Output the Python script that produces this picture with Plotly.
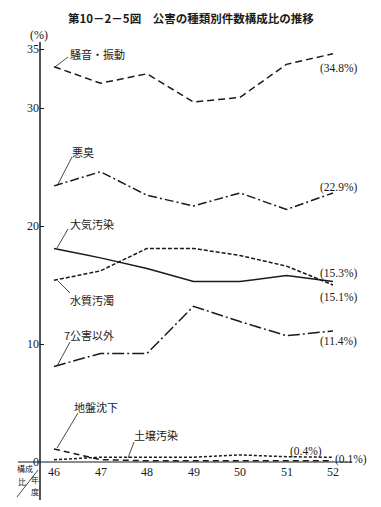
import plotly.graph_objects as go

years = [46, 47, 48, 49, 50, 51, 52]
year_labels = ["46", "47", "48", "49", "50", "51", "52"]

noise = [33.5, 32.1, 32.9, 30.5, 30.9, 33.7, 34.6]
odor = [23.4, 24.6, 22.6, 21.7, 22.8, 21.4, 22.8]
air = [18.1, 17.3, 16.4, 15.3, 15.3, 15.8, 15.3]
water = [15.4, 16.2, 18.1, 18.1, 17.5, 16.6, 15.0]
other = [8.1, 9.2, 9.2, 13.2, 11.9, 10.7, 11.1]
subsidence = [1.1, 0.2, 0.1, 0.1, 0.1, 0.1, 0.1]
soil = [0.2, 0.4, 0.4, 0.4, 0.6, 0.45, 0.4]

series_names = ["騒音・振動", "悪臭", "大気汚染", "水質汚濁", "7公害以外", "地盤沈下", "土壌汚染"]
series_vals = [noise, odor, air, water, other, subsidence, soil]
dashes = ["7px,4px", "9px,3px,2px,3px", "solid", "4px,2px", "12px,3px,2px,3px", "6px,4px", "3px,2px"]

y_ticks = [0, 10, 20, 30, 35]

JP = "Noto Sans CJK JP"
SERIF = "Liberation Serif"
INK = "#1a1a1a"

# the page body has an 8px margin; the figure is sized to fit the window
OFF = 8
W, H = 381 - OFF, 507 - OFF
L, R, T, B = 40 - OFF, 29, 42 - OFF, 45
pw, ph = W - L - R, H - T - B

def px2paper_x(px):
    return (px - OFF - L) / pw

def py2paper_y(py):
    return (H - B - (py - OFF)) / ph

def dx(px):
    return 46 + (px - 54) / 46.5

def dy(py):
    return (462 - py) / 11.8

fig = go.Figure()
for name, vals, d in zip(series_names, series_vals, dashes):
    fig.add_trace(go.Scatter(x=years, y=vals, mode="lines", name=name,
                             line=dict(color=INK, width=1.5, dash=d)))

labels = [
    ("騒音・振動", 68, 54, (55, 67), (68, 57)),
    ("悪臭", 70, 152, (57, 186), (72, 157)),
    ("大気汚染", 68, 224, (57, 248), (68, 229)),
    ("水質汚濁", 68, 300, (58, 281), (70, 293)),
    ("7公害以外", 62, 335, (57, 366), (70, 342)),
    ("地盤沈下", 72, 407, (57, 448), (78, 413)),
    ("土壌汚染", 132, 435, (128, 458), (134, 442)),
]
shapes = []
annotations = []
for txt, lx, cy, p0, p1 in labels:
    annotations.append(dict(x=dx(lx), y=dy(cy), xref="x", yref="y", text=txt, showarrow=False,
                            xanchor="left", yanchor="middle",
                            font=dict(family=JP, size=11, color=INK)))
    shapes.append(dict(type="line", xref="x", yref="y", x0=dx(p0[0]), y0=dy(p0[1]),
                       x1=dx(p1[0]), y1=dy(p1[1]), line=dict(color=INK, width=0.8)))

end_labels = [
    ("(34.8%)", 318, 68),
    ("(22.9%)", 318, 187),
    ("(15.3%)", 318, 273),
    ("(15.1%)", 318, 297),
    ("(11.4%)", 318, 341),
    ("(0.4%)", 288, 451),
    ("(0.1%)", 333, 459),
]
for txt, lx, cy in end_labels:
    annotations.append(dict(x=dx(lx), y=dy(cy), xref="x", yref="y", text=txt, showarrow=False,
                            xanchor="left", yanchor="middle",
                            font=dict(family=SERIF, size=11.5, color=INK)))

for yr, lab in zip(years, year_labels):
    annotations.append(dict(x=yr, y=py2paper_y(472), xref="x", yref="paper", text=lab,
                            showarrow=False, xanchor="center", yanchor="middle",
                            font=dict(family=SERIF, size=12, color=INK)))

annotations.append(dict(x=px2paper_x(191), y=py2paper_y(18), xref="paper", yref="paper",
                        text="<b>第10－2－5図　公害の種類別件数構成比の推移</b>",
                        showarrow=False, xanchor="center", yanchor="middle",
                        font=dict(family=JP, size=11.5, color=INK)))
annotations.append(dict(x=px2paper_x(39), y=py2paper_y(35), xref="paper", yref="paper", text="(%)",
                        showarrow=False, xanchor="center", yanchor="middle",
                        font=dict(family=SERIF, size=12, color=INK)))

for txt, cx, cy in [("構成", 25, 468), ("比", 22, 481), ("年", 35, 479), ("度", 35, 491)]:
    annotations.append(dict(x=px2paper_x(cx), y=py2paper_y(cy), xref="paper", yref="paper", text=txt,
                            showarrow=False, xanchor="center", yanchor="middle",
                            font=dict(family=JP, size=8, color=INK)))
shapes.append(dict(type="line", xref="paper", yref="paper", x0=px2paper_x(17), y0=py2paper_y(497),
                   x1=px2paper_x(38), y1=py2paper_y(470), line=dict(color=INK, width=0.8)))
shapes.append(dict(type="line", xref="paper", yref="paper", x0=px2paper_x(18), y0=0, x1=1, y1=0,
                   line=dict(color=INK, width=1.2)))
shapes.append(dict(type="line", xref="paper", yref="paper", x0=0, y0=py2paper_y(500), x1=0, y1=1,
                   line=dict(color=INK, width=1.5)))

fig.update_layout(
    width=W, height=H,
    margin=dict(l=L, r=R, t=T, b=B),
    paper_bgcolor="white", plot_bgcolor="white",
    showlegend=False,
    shapes=shapes, annotations=annotations,
    xaxis=dict(range=[dx(40), dx(352)], tickvals=years, showticklabels=False,
               showgrid=False, zeroline=False, showline=False, ticks=""),
    yaxis=dict(range=[0, dy(42)], tickvals=y_ticks, showgrid=False, zeroline=False,
               showline=False, ticks="inside", ticklen=4, tickcolor=INK,
               tickfont=dict(family=SERIF, size=12, color=INK)),
)

fig.write_html("out.html")
